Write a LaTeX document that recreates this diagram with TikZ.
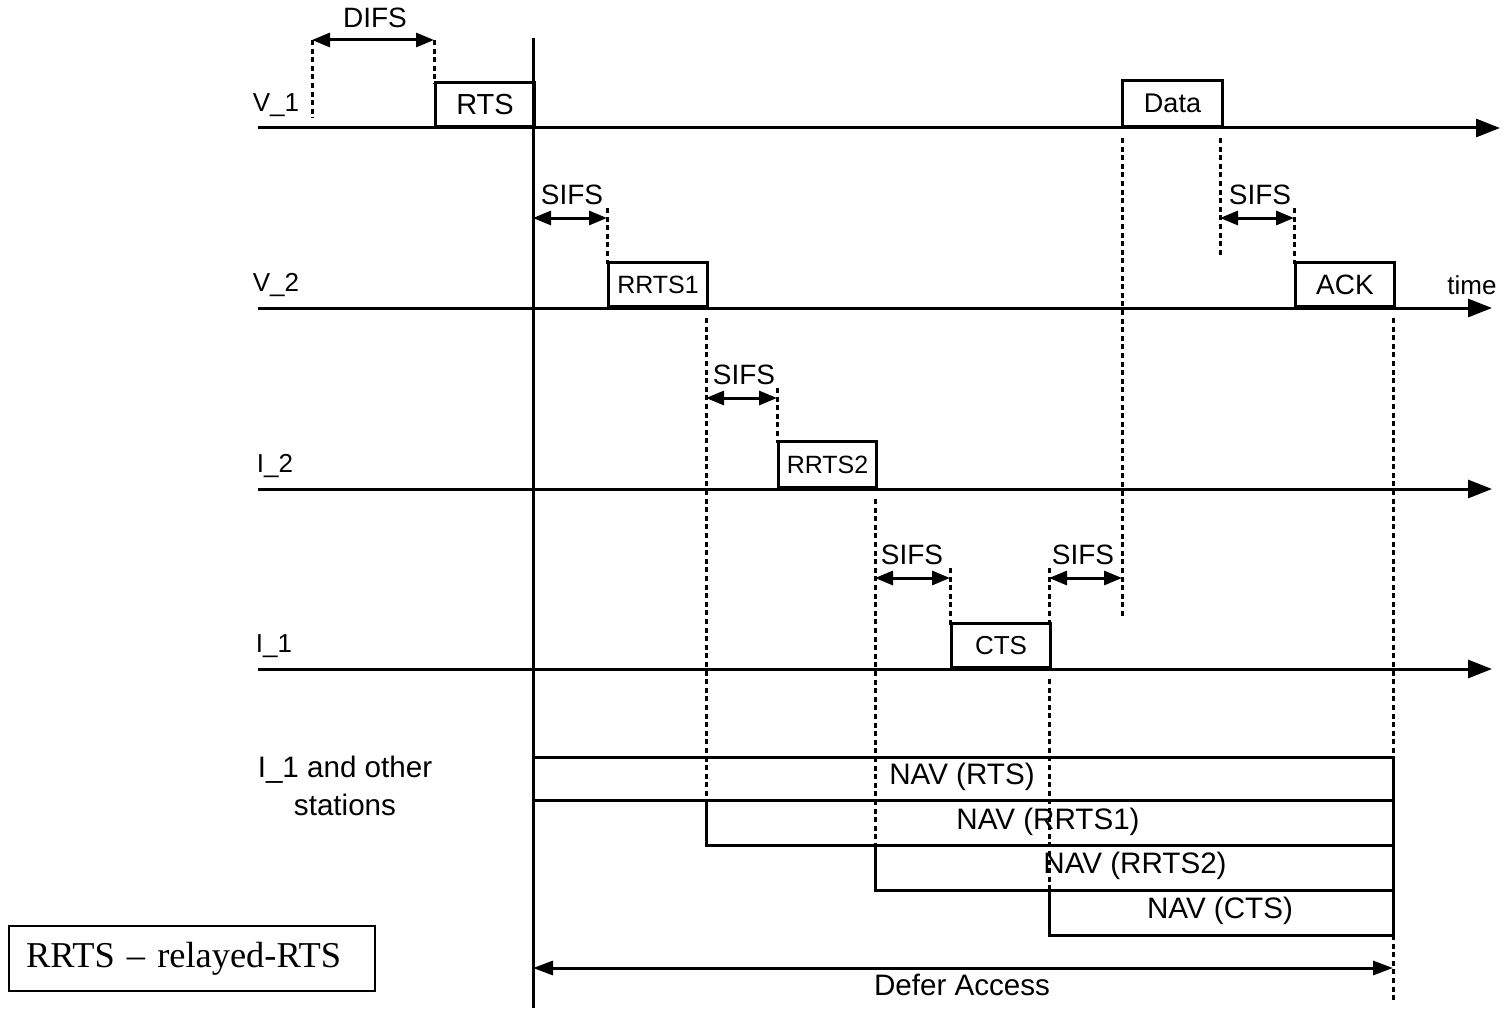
\documentclass[tikz,border=0pt]{standalone}
\usepackage{fontspec}
\setmainfont{Liberation Sans}
\newfontfamily\legendfont{Liberation Serif}
\usetikzlibrary{arrows.meta}
\begin{document}
\begin{tikzpicture}[x=0.5pt,y=-0.5pt,
  sol/.style={line width=1.5pt},
  tl/.style={line width=1.5pt,-{Triangle[length=12pt,width=9pt]}},
  dotln/.style={line width=1.5pt,dash pattern=on 2.5pt off 1.8pt},
  dim/.style={line width=1.5pt,{Triangle[length=9pt,width=7pt]}-{Triangle[length=9pt,width=7pt]}},
  defer/.style={line width=1.5pt,{Triangle[length=10pt,width=7pt]}-{Triangle[length=10pt,width=7pt]}},
  pkt/.style={draw,line width=1.5pt,inner sep=0pt,anchor=south west,font=\fontsize{12.5}{14}\selectfont},
  lbl/.style={inner sep=0pt,font=\fontsize{13}{15}\selectfont},
  sifs/.style={inner sep=0pt,font=\fontsize{14}{16}\selectfont},
  big/.style={inner sep=0pt,font=\fontsize{14.8}{17}\selectfont},
]
\useasboundingbox (0,0) rectangle (1504,1011);

% station labels
\node[lbl] (lv1) at (276,105) {V\_1};
\node[lbl] (lv2) at (276,285) {V\_2};
\node[lbl] (li2) at (275,466) {I\_2};
\node[lbl] (li1) at (274,646) {I\_1};
\node[big,align=center] (lio) at (345,786) {I\_1 and other\\[2pt]stations};
\node[lbl] (ltime) at (1472,285) {time};

% timelines
\coordinate (a1) at (258,128); \coordinate (b1) at (1500,128);
\coordinate (a2) at (258,308); \coordinate (b2) at (1492,308);
\coordinate (a3) at (258,489); \coordinate (b3) at (1492,489);
\coordinate (a4) at (258,669); \coordinate (b4) at (1492,669);
\draw[tl] (a1) -- (b1);
\draw[tl] (a2) -- (b2);
\draw[tl] (a3) -- (b3);
\draw[tl] (a4) -- (b4);

% main vertical line
\coordinate (mt) at (533,38); \coordinate (mb) at (533,1008);
\draw[sol] (mt) -- (mb);

% frames
\node[pkt,minimum width=49.5pt,minimum height=22pt,font=\fontsize{14.5}{16}\selectfont] (rts) at (434,128) {RTS};
\node[pkt,minimum width=50pt,minimum height=23pt,font=\fontsize{13.5}{15}\selectfont] (data) at (1121,128) {Data};
\node[pkt,minimum width=49.5pt,minimum height=22pt] (rrts1) at (607,308) {RRTS1};
\node[pkt,minimum width=49.5pt,minimum height=22pt,font=\fontsize{14}{16}\selectfont] (ack) at (1294,308) {ACK};
\node[pkt,minimum width=49pt,minimum height=23pt] (rrts2) at (777,489) {RRTS2};
\node[pkt,minimum width=49.5pt,minimum height=22pt,font=\fontsize{13}{15}\selectfont] (cts) at (950,669) {CTS};

% DIFS
\draw[dotln] (312,40) -- (312,118);
\draw[dotln] (434,40) -- (434,84);
\draw[dim] (312,40) -- (434,40);
\node[sifs] (difs) at (375,18) {DIFS};

% SIFS gaps
\draw[dotln] (607,208) -- (607,264);
\draw[dim] (533,218) -- (607,218);
\node[sifs] (s1) at (572,195) {SIFS};

\draw[dotln] (777,388) -- (777,443);
\draw[dim] (706,398) -- (777,398);
\node[sifs] (s2) at (744,375) {SIFS};

\draw[dotln] (950,568) -- (950,625);
\draw[dim] (875,578) -- (950,578);
\node[sifs] (s3) at (912,555) {SIFS};

\draw[dotln] (1049,568) -- (1049,625);
\draw[dim] (1049,578) -- (1122,578);
\node[sifs] (s4) at (1083,555) {SIFS};

\draw[dotln] (1220,138) -- (1220,255);
\draw[dotln] (1294,208) -- (1294,264);
\draw[dim] (1220,218) -- (1294,218);
\node[sifs] (s5) at (1260,195) {SIFS};

% long dotted guides
\draw[dotln] (1122,138) -- (1122,617);
\draw[dotln] (706,318) -- (706,800);
\draw[dotln] (875,499) -- (875,845);
\draw[dotln] (1049,679) -- (1049,890);
\draw[dotln] (1393,318) -- (1393,757);
\draw[dotln] (1393,935) -- (1393,1000);

% NAV bars
\draw[sol] (533,757) -- (1393,757) -- (1393,935);
\draw[sol] (533,800) -- (1393,800);
\draw[sol] (706,800) -- (706,845) -- (1393,845);
\draw[sol] (875,845) -- (875,890) -- (1393,890);
\draw[sol] (1049,890) -- (1049,935) -- (1393,935);
\node[big] (n1) at (962,777) {NAV (RTS)};
\node[big] (n2) at (1048,822) {NAV (RRTS1)};
\node[big] (n3) at (1135,866) {NAV (RRTS2)};
\node[big] (n4) at (1220,911) {NAV (CTS)};

% defer access
\draw[defer] (533,968) -- (1393,968);
\node[big] (defer) at (962,985) {Defer Access};

% legend
\node[draw,line width=1pt,anchor=north west,inner xsep=8.5pt,inner ysep=0pt,
      minimum height=32.5pt,text width=166pt,align=left,
      font=\legendfont\fontsize{18.2}{20}\selectfont] (legend) at (8,925) {RRTS – relayed-RTS};
\end{tikzpicture}
\end{document}
